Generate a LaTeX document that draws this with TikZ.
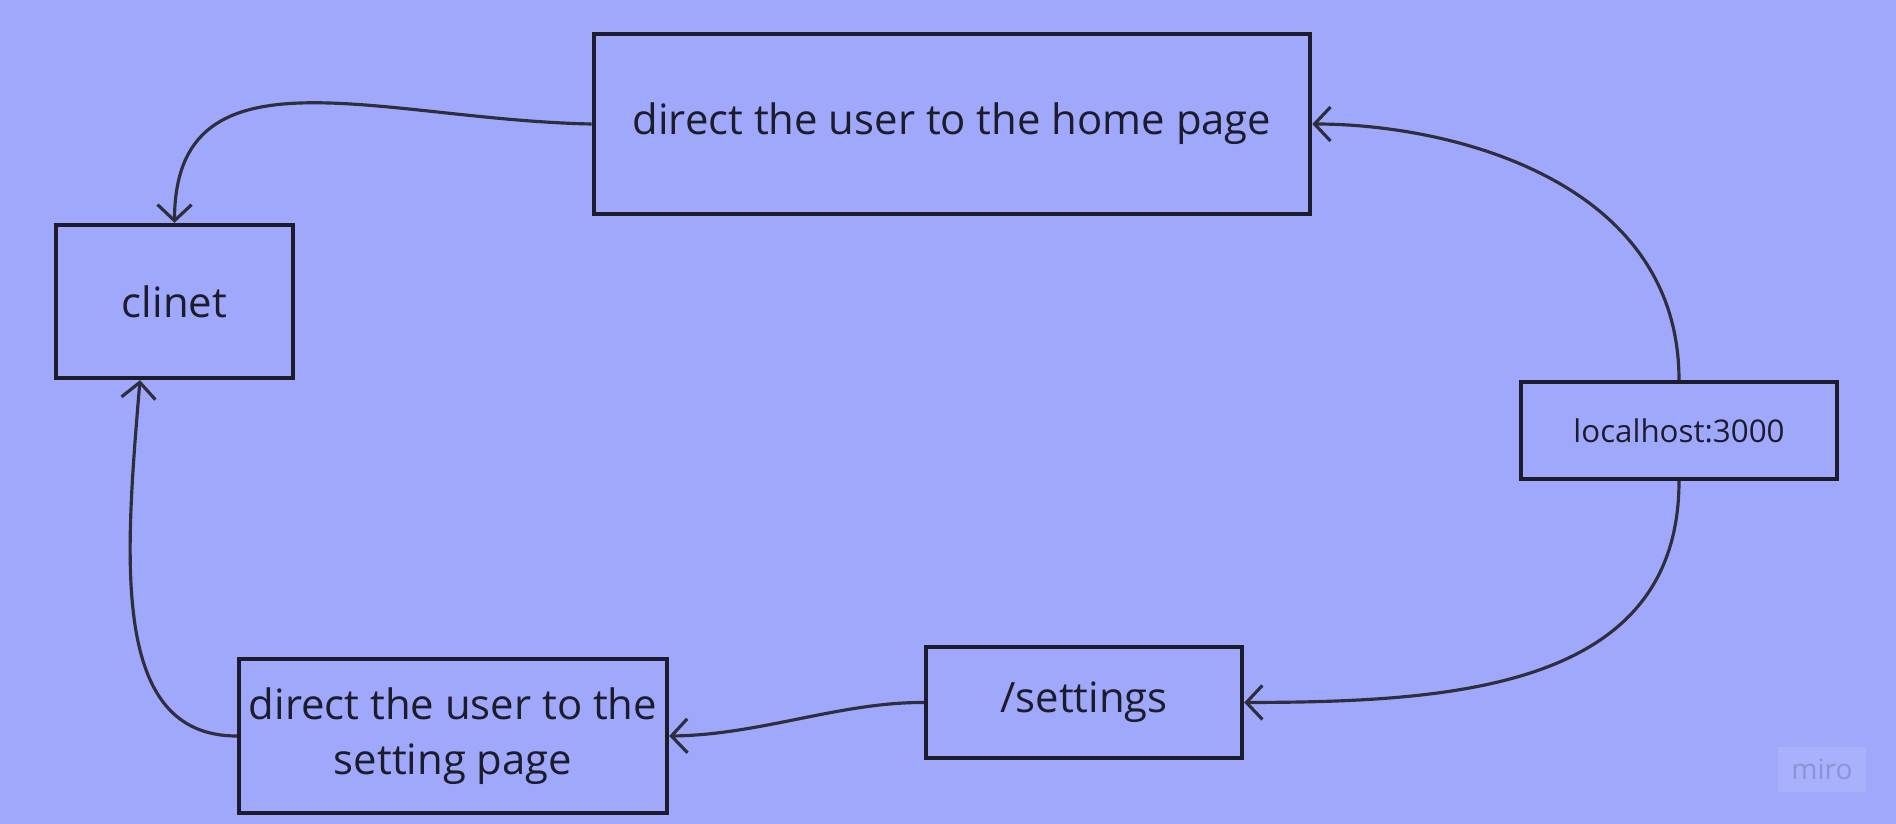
\documentclass[tikz,border=0pt]{standalone}
\usepackage{fontspec}
\setmainfont{Open Sans}
\usetikzlibrary{arrows.meta}
\definecolor{bgblue}{HTML}{A0A8FC}
\definecolor{ink}{HTML}{1C1C2C}
\definecolor{wire}{HTML}{2E2E3E}
\definecolor{logobg}{HTML}{AAB1FC}
\definecolor{logotext}{HTML}{8C93D2}
\tikzset{box/.style={draw=ink, line width=1.2pt, text=ink, inner sep=0pt, align=center},
         flow/.style={draw=wire, line width=0.9pt, -{Straight Barb[length=1.6mm,width=3.4mm,line width=0.9pt]}}}

\begin{document}
\begin{tikzpicture}[x=0.01cm,y=-0.01cm]
        \useasboundingbox[fill=bgblue] (0,0) rectangle (1896,824);
        
        % Boxes
        \node[box, minimum width=7.16cm, minimum height=1.80cm, font=\fontsize{11.9}{14}\selectfont] (home) at (952,124) {direct the user to the home page};
        \node[box, minimum width=2.37cm, minimum height=1.53cm, font=\fontsize{11.9}{14}\selectfont] (clinet) at (174.5,301.5) {clinet};
        \node[box, minimum width=3.16cm, minimum height=0.97cm, font=\fontsize{8.9}{10}\selectfont] (local) at (1679,430.5) {localhost:3000};
        \node[box, minimum width=3.16cm, minimum height=1.11cm, font=\fontsize{11.9}{14}\selectfont] (settings) at (1084,702.5) {/settings};
        \node[box, minimum width=4.28cm, minimum height=1.54cm, font=\fontsize{11.9}{15.8}\selectfont] (setpage) at (453,736) {direct the user to the\\setting page};
        
        % Connectors
        \draw[flow] (home.west) .. controls (380,120) and (175,40) .. (clinet.north);
        \draw[flow] (local.north) .. controls (1679,180) and (1450,124) .. (home.east);
        \draw[flow] (local.south) .. controls (1679,690) and (1450,702) .. (settings.east);
        \draw[flow] (settings.west) .. controls (840,702) and (760,735) .. (setpage.east);
        \draw[flow] (setpage.west) .. controls (110,736) and (125,560) .. (clinet.south -| 140,0);
        
        % watermark
        \node[fill=logobg, minimum width=0.88cm, minimum height=0.45cm, inner sep=0pt, text=logotext, font=\fontsize{8}{9}\selectfont] (logo) at (1822,769.5) {miro};
        
\end{tikzpicture}
\end{document}
